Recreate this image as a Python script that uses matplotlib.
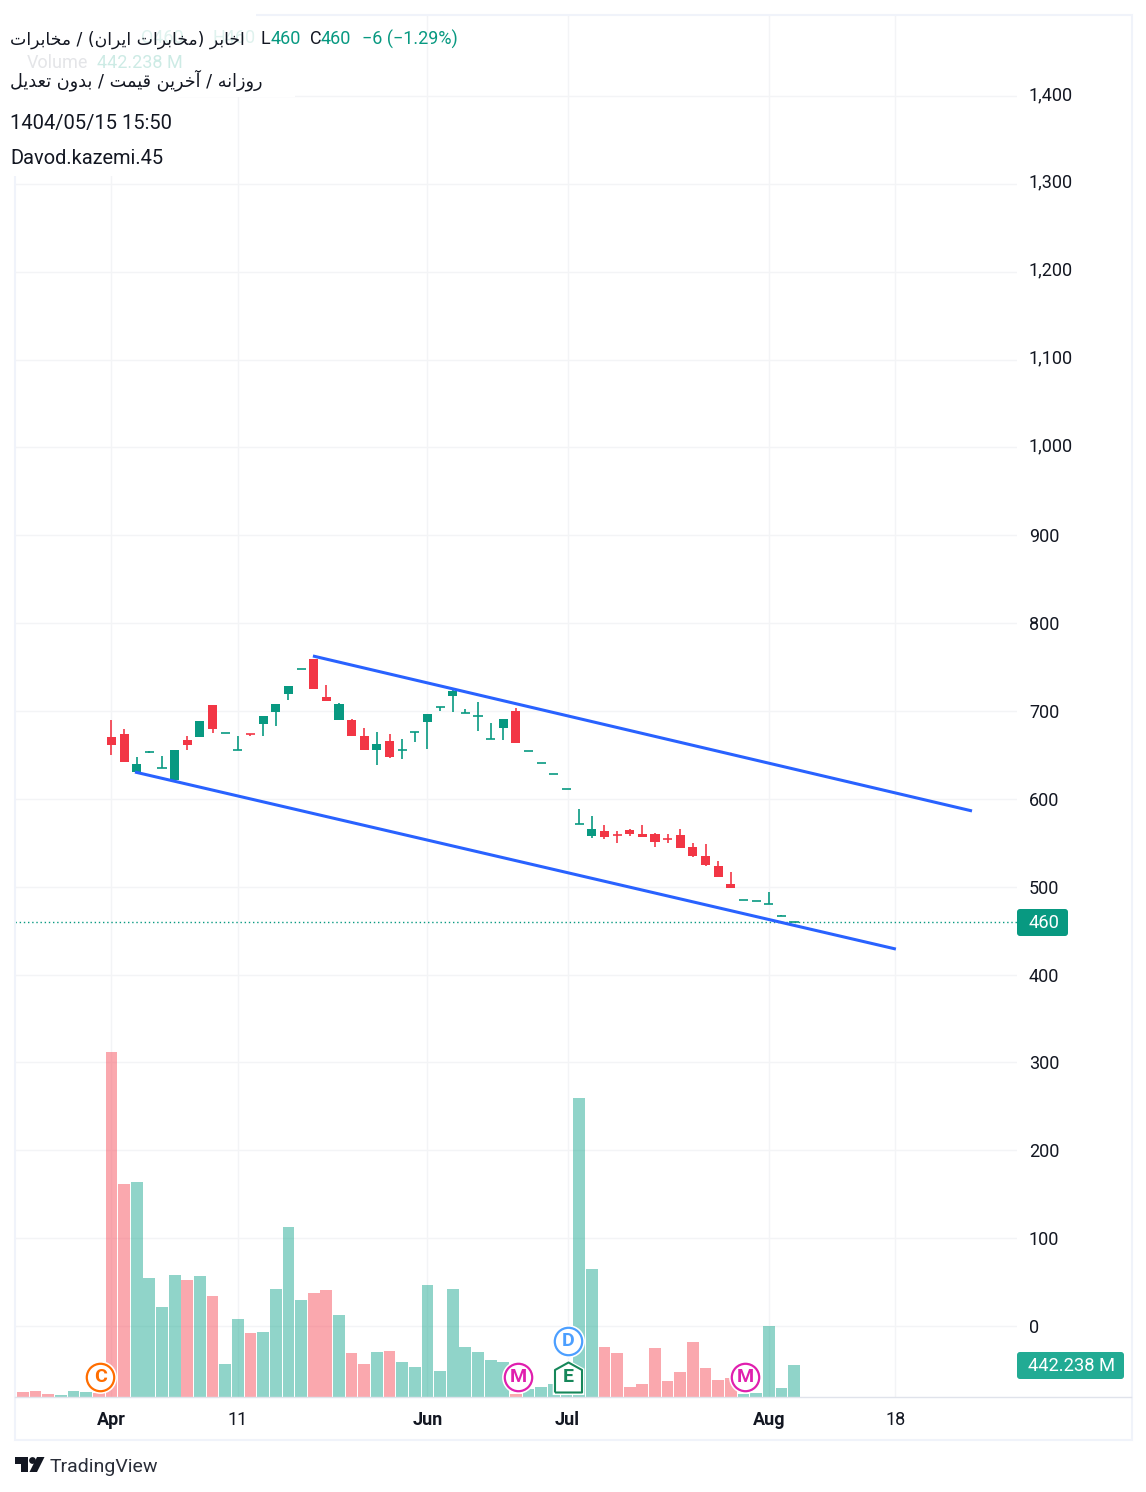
import matplotlib
matplotlib.use('Agg')
import matplotlib.pyplot as plt
from matplotlib.patches import Rectangle, FancyBboxPatch, Polygon, Circle
from matplotlib.transforms import ScaledTranslation

plt.rcParams['font.family'] = ['Roboto', 'DejaVu Sans']

# candles, index 0 is the first candle (on the Apr tick)
opens = [670.4, 673.8, 630.6, 653.6, 634.7, 621.4, 667, 670.4, 706.8, 674.6,
         655.2, 673.4, 685.2, 698.8, 719.3, 747.4, 759.2, 716, 689.7, 689.7,
         671.5, 655.6, 665.8, 655.2, 675.7, 687.5, 704.2, 717.1, 697.4, 693.9,
         667.8, 680.7, 700, 654.1, 640.4, 627.9, 610.9, 571, 557.7, 563.4,
         558.5, 564.6, 560, 560, 554.7, 558.9, 545.2, 535, 523.6, 503.1,
         484.5, 483.4, 480, 466.3, 459.5]
closes = [661.3, 641.9, 639.7, 654.1, 634.7, 655.6, 661.3, 688.6, 679.5, 674.6,
          655.2, 673.2, 694.3, 708, 728.4, 747.4, 725, 711.4, 708, 671.5,
          655.6, 662.4, 647.6, 655.2, 675.7, 696.6, 704.2, 722.8, 697.4, 693.9,
          667.8, 690.9, 663.6, 654.1, 640.4, 627.9, 610.9, 571, 565.7, 556.6,
          558.2, 560, 556.6, 550.9, 554.5, 544.1, 535, 524.7, 511.1, 498.6,
          484.5, 483.4, 480, 466.3, 459.5]
highs = [689.7, 679.5, 647.6, 654.1, 648.8, 655.6, 671.5, 688.6, 706.8, 674.6,
         671.5, 673.4, 694.3, 708, 728.4, 747.4, 759.2, 729.6, 709, 690.9,
         680.6, 676, 673.8, 668, 675.7, 696.6, 704.2, 725, 702.3, 710.3,
         686.4, 690.9, 703.4, 654.1, 640.4, 627.9, 610.9, 588.5, 580.5, 570.3,
         563.4, 565.7, 570.3, 561.2, 560, 565.7, 549.8, 548.6, 529.3, 516.8,
         484.5, 483.4, 494, 467.8, 459.5]
lows = [649.9, 641.9, 630.6, 652.2, 634.7, 621.4, 655.6, 670.4, 674.9, 674.6,
        655.2, 671.5, 671.5, 682.9, 712.5, 747.4, 725, 711.4, 689.7, 671.5,
        655.6, 638.5, 646.5, 645.3, 664.7, 656.7, 700, 698.9, 697.4, 677.3,
        667.8, 667, 663.6, 654.1, 640.4, 627.9, 610.9, 571, 555.5, 554.3,
        549.8, 557.7, 556.6, 545.2, 549.8, 544.1, 533.8, 523.6, 511.1, 498.6,
        484.5, 483.4, 480, 466.3, 459.5]

# volume in millions, first bar is index -8
volumes = [111, 69, 83, 41, 28, 83, 69, 55, 4768, 2944, 2971, 1645, 1244, 1686, 1617,
           1672, 1396, 456, 1078, 884, 898, 1493, 2349, 1341, 1437, 1479, 1133, 608,
           456, 622, 636, 484, 415, 1548, 359, 1493, 691, 622, 511, 484, 41, 111, 138,
           180, 28, 4132, 1769, 691, 608, 138, 180, 677, 221, 346, 760, 401, 235, 263,
           41, 55, 981, 124, 442]
# u = up bar, d = down bar
volume_dirs = ('uddduuuddd' 'uuuududuuduuuudduddud' 'uuuuuuuuu' 'd' 'uuuuuu'
               'ddddddddddd' 'uuuuu')

time_ticks = [0, 10, 25, 36.08, 52, 62]
time_labels = ['Apr', '11', 'Jun', 'Jul', 'Aug', '18']
time_bold = [True, False, True, True, True, False]
price_ticks = list(range(0, 1500, 100))

upper_x = [15.94, 68.08]
upper_y = [762.6, 586.2]
lower_x = [1.86, 62.06]
lower_y = [630.5, 429]
last_price = 460
last_volume = '442.238 M'

# event badges: label, bar index, volume axis height, colour
badges = [('C', -0.9, 276, '#ff6d00'), ('M', 32.15, 276, '#e01fae'),
          ('M', 50.15, 276, '#e01fae'), ('D', 36.12, 774, '#4c9fff')]
earnings = ('E', 36.12, 276, '#16875a')

TITLE_FA = 'اخابر (مخابرات ایران) / مخابرات'
SUB_FA = 'روزانه / آخرین قیمت / بدون تعدیل'

UP = '#089981'
DOWN = '#f23645'
VOL_UP = '#22ab94'
VOL_DOWN = '#f7525f'
INK = '#131722'
GRID = '#f3f4f6'
FRAME = '#f0f3fa'


# matplotlib has no shaping or bidi, so pick presentation forms by hand
FORMS = {
    'ا': (0xFE8D, 0xFE8E), 'آ': (0xFE81, 0xFE82),
    'د': (0xFEA9, 0xFEAA), 'ر': (0xFEAD, 0xFEAE),
    'ز': (0xFEAF, 0xFEB0), 'و': (0xFEED, 0xFEEE),
    'ب': (0xFE8F, 0xFE90, 0xFE91, 0xFE92), 'ت': (0xFE95, 0xFE96, 0xFE97, 0xFE98),
    'خ': (0xFEA5, 0xFEA6, 0xFEA7, 0xFEA8), 'ع': (0xFEC9, 0xFECA, 0xFECB, 0xFECC),
    'ق': (0xFED5, 0xFED6, 0xFED7, 0xFED8), 'ل': (0xFEDD, 0xFEDE, 0xFEDF, 0xFEE0),
    'م': (0xFEE1, 0xFEE2, 0xFEE3, 0xFEE4), 'ن': (0xFEE5, 0xFEE6, 0xFEE7, 0xFEE8),
    'ه': (0xFEE9, 0xFEEA, 0xFEEB, 0xFEEC), 'ی': (0xFBFC, 0xFBFD, 0xFBFE, 0xFBFF),
}


def shape_rtl(text):
    out = []
    for i, ch in enumerate(text):
        if ch not in FORMS:
            out.append({'(': ')', ')': '('}.get(ch, ch))
            continue
        forms = FORMS[ch]
        prev_joins = i > 0 and text[i - 1] in FORMS and len(FORMS[text[i - 1]]) == 4
        next_joins = i < len(text) - 1 and text[i + 1] in FORMS and len(forms) == 4
        if prev_joins and next_joins:
            out.append(chr(forms[3]))
        elif prev_joins:
            out.append(chr(forms[1]))
        elif next_joins:
            out.append(chr(forms[2]))
        else:
            out.append(chr(forms[0]))
    return ''.join(reversed(out))


W, H = 1146, 1492
fig = plt.figure(figsize=(W / 100, H / 100), dpi=100, facecolor='white')

# plot area in pixels: x 15..1017, y 15..1397
rect = [15 / W, (H - 1397) / H, (1017 - 15) / W, (1397 - 15) / H]
ax = fig.add_axes(rect, zorder=1)
vol_ax = fig.add_axes(rect, zorder=2, sharex=ax)
vol_ax.patch.set_visible(False)

ax.set_xlim(-7.63, 71.64)
ax.set_ylim(-80.8, 1492.1)
vol_ax.set_ylim(0, 19099)

for a in (ax, vol_ax):
    for s in a.spines.values():
        s.set_visible(False)

ax.set_yticks(price_ticks)
ax.set_yticklabels([f'{p:,}' for p in price_ticks])
ax.yaxis.tick_right()
ax.tick_params(axis='y', length=0, pad=8.6, labelsize=13, labelcolor=INK)
# labels with a comma centre lower, lift them back
lift = ScaledTranslation(0, 3 / 100, fig.dpi_scale_trans)
for p, lab in zip(price_ticks, ax.get_yticklabels()):
    if p >= 1000:
        lab.set_transform(lab.get_transform() + lift)
ax.set_xticks(time_ticks)
ax.set_xticklabels(time_labels)
ax.tick_params(axis='x', length=0, pad=10, labelsize=13, labelcolor=INK)
for lab, bold in zip(ax.get_xticklabels(), time_bold):
    if bold:
        lab.set_fontweight('bold')
ax.grid(True, color=GRID, linewidth=1.0)
ax.set_axisbelow(True)
vol_ax.set_yticks([])
vol_ax.tick_params(axis='x', length=0, labelbottom=False)

# volume
for i, (v, d) in enumerate(zip(volumes, volume_dirs)):
    vol_ax.bar(i - 8, v, width=0.93, color=VOL_UP if d == 'u' else VOL_DOWN, alpha=0.5, linewidth=0)

# candles
for i, (o, h, l, c) in enumerate(zip(opens, highs, lows, closes)):
    col = UP if c >= o else DOWN
    ax.vlines(i, l, h, color=col, linewidth=1.2, zorder=3)
    if abs(c - o) < 1:
        ax.hlines((o + c) / 2, i - 0.36, i + 0.36, color=col, linewidth=1.2, zorder=3)
    else:
        ax.bar(i, abs(c - o), bottom=min(o, c), width=0.72, color=col, linewidth=0, zorder=3)

# channel lines
ax.plot(upper_x, upper_y, color='#2962ff', linewidth=2.2, zorder=4, solid_capstyle='butt')
ax.plot(lower_x, lower_y, color='#2962ff', linewidth=2.2, zorder=4, solid_capstyle='butt')
ax.axhline(last_price, color=UP, linewidth=1.0, linestyle=(0, (1, 2)), zorder=2)

# badges sit over the volume bars
for label, x, y, col in badges:
    vol_ax.scatter([x], [y], s=560, color='white', linewidths=0, zorder=5, clip_on=False)
    vol_ax.scatter([x], [y], s=390, facecolor='white', edgecolor=col, linewidths=1.6, zorder=6, clip_on=False)
    vol_ax.text(x, y, label, color=col, fontsize=14, fontweight='bold', ha='center', va='center', zorder=7)
# repeat the first corner, a custom marker path is not closed for us
house = [(-0.9, -1), (0.9, -1), (0.9, 0.5), (0, 1), (-0.9, 0.5), (-0.9, -1)]
label, x, y, col = earnings
vol_ax.scatter([x], [y], s=640, marker=house, color='white', linewidths=0, zorder=5, clip_on=False)
vol_ax.scatter([x], [y], s=467, marker=house, facecolor='white', edgecolor=col, linewidths=1.5,
               zorder=6, clip_on=False)
vol_ax.text(x, y, label, color=col, fontsize=14, fontweight='bold', ha='center', va='center', zorder=7)

# frame, legend and labels in pixel coordinates
over = fig.add_axes([0, 0, 1, 1], zorder=3)
over.set_xlim(0, W)
over.set_ylim(H, 0)
over.axis('off')
over.patch.set_visible(False)

over.add_patch(Rectangle((14.5, 14.5), 1117, 1425, fill=False, edgecolor=FRAME, linewidth=1.5))
over.plot([15, 1131], [1397, 1397], color='#e0e3eb', linewidth=1.0)

# white legend backing hides the grid and frame behind it
for x0, y0, x1, y1 in [(8, 12, 256, 56), (8, 56, 295, 97), (8, 97, 178, 141), (8, 141, 170, 176)]:
    over.add_patch(Rectangle((x0, y0), x1 - x0, y1 - y0, facecolor='white', edgecolor='none'))

over.text(27, 63.5, 'Volume', fontsize=13, color='#e4e5e8', va='center')
over.text(97, 63.5, last_volume, fontsize=13, color='#cdebe5', va='center')
over.text(141, 38, 'O460', fontsize=13, color='#dff2ee', va='center')
over.text(213, 38, 'H460', fontsize=13, color='#dff2ee', va='center')

fa = ['DejaVu Sans']
over.text(10, 39.5, shape_rtl(TITLE_FA), fontsize=12.4, color=INK, family=fa, va='center')
over.text(10, 80, shape_rtl(SUB_FA), fontsize=12.7, color=INK, family=fa, va='center')
over.text(10, 123, '1404/05/15 15:50', fontsize=14.5, color=INK, va='center')
over.text(10, 158.5, 'Davod.kazemi.45', fontsize=14.4, color=INK, va='center')

for x, s, col in [(261, 'L', INK), (271, '460', UP), (310, 'C', INK), (321, '460', UP),
                  (362, '−6 (−1.29%)', UP)]:
    over.text(x, 39, s, fontsize=13, color=col, va='center')

over.add_patch(FancyBboxPatch((1017, 909), 51, 27, boxstyle='round,pad=0,rounding_size=3',
                              facecolor=UP, edgecolor='none'))
over.text(1044, 923, str(last_price), color='white', fontsize=13.2, ha='center', va='center')
over.add_patch(FancyBboxPatch((1017, 1352), 107, 27, boxstyle='round,pad=0,rounding_size=3',
                              facecolor=VOL_UP, edgecolor='none'))
over.text(1071, 1366, last_volume, color='white', fontsize=13.2, ha='center', va='center')

# TradingView logo
over.add_patch(Polygon([(15, 1457), (28, 1457), (28, 1472), (21, 1472), (21, 1464), (15, 1464)],
                       facecolor=INK, edgecolor='none'))
over.add_patch(Circle((32.5, 1460.5), 3.4, facecolor=INK, edgecolor='none'))
over.add_patch(Polygon([(37, 1457), (44.5, 1457), (37, 1472), (29.5, 1472)], facecolor=INK, edgecolor='none'))
over.text(50, 1467, 'TradingView', fontsize=14, color='#2a2e39', va='center')

fig.savefig('out.png', dpi=100)
